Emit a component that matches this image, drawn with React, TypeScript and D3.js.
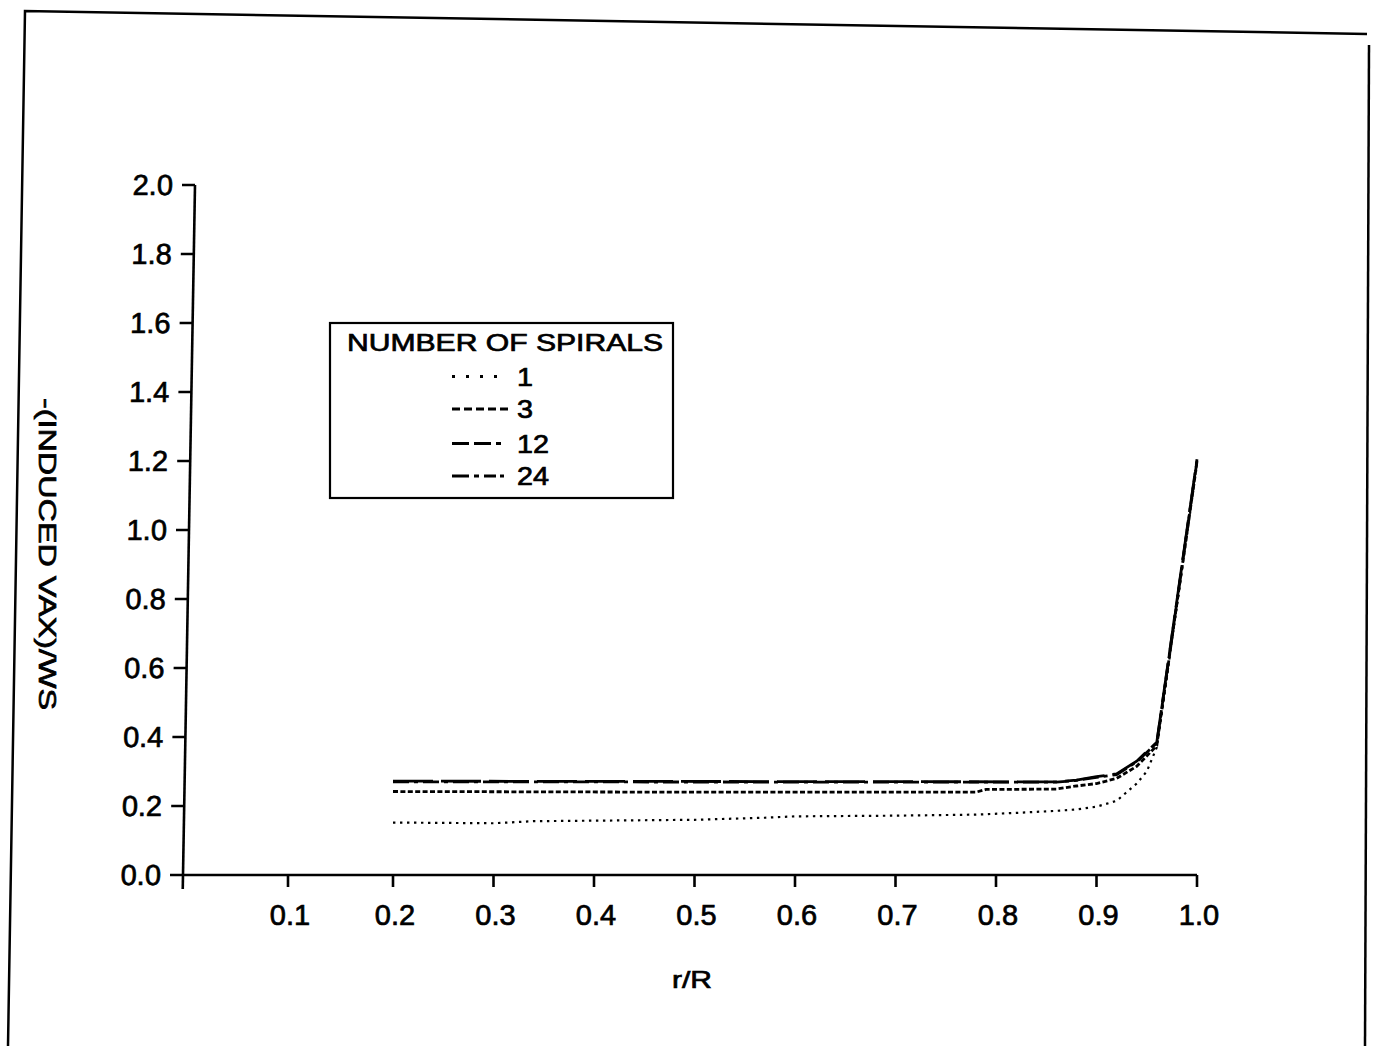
import React from "react";
import * as d3 from "d3";

const seriesNames = ["1", "3", "12", "24"];

const rR1 = [0.2, 0.3, 0.34, 0.5, 0.57, 0.6, 0.7, 0.78, 0.82, 0.86, 0.88, 0.9, 0.92, 0.93, 0.94, 0.95, 0.96, 1.0];
const v1 = [0.152, 0.15, 0.156, 0.16, 0.166, 0.17, 0.172, 0.175, 0.18, 0.186, 0.19, 0.198, 0.215, 0.24, 0.265, 0.3, 0.37, 1.19];

const rR3 = [0.2, 0.5, 0.78, 0.79, 0.86, 0.88, 0.9, 0.92, 0.94, 0.96, 1.0];
const v3 = [0.242, 0.24, 0.24, 0.248, 0.249, 0.258, 0.265, 0.28, 0.315, 0.375, 1.2];

const rR12 = [0.2, 0.86, 0.88, 0.9, 0.92, 0.94, 0.96, 1.0];
const v12 = [0.272, 0.27, 0.275, 0.285, 0.293, 0.33, 0.385, 1.205];

const rR24 = [0.2, 0.86, 0.88, 0.9, 0.92, 0.94, 0.96, 1.0];
const v24 = [0.27, 0.269, 0.274, 0.283, 0.291, 0.328, 0.383, 1.2];

const xTicks = [0.1, 0.2, 0.3, 0.4, 0.5, 0.6, 0.7, 0.8, 0.9, 1.0];
const yTicks = [0, 0.2, 0.4, 0.6, 0.8, 1.0, 1.2, 1.4, 1.6, 1.8, 2.0];

const FONT = "'Liberation Sans', Arial, Helvetica, sans-serif";

export default function App() {
  const x = d3.scaleLinear().domain([0.2, 1]).range([393, 1197]);
  const y = d3.scaleLinear().domain([0, 2]).range([875, 185]);
  const axisX = 183;
  const k = 12 / 690;
  const shear = `matrix(1,0,${-k},1,${k * 875},0)`;

  const line = d3
    .line<[number, number]>()
    .x((d) => x(d[0]))
    .y((d) => y(d[1]));

  const series = [
    { name: seriesNames[0], xs: rR1, ys: v1, dash: "2.4,4.6", w: 2.2 },
    { name: seriesNames[1], xs: rR3, ys: v3, dash: "5,2.4", w: 2.8 },
    { name: seriesNames[2], xs: rR12, ys: v12, dash: "40,8", w: 2.8 },
    { name: seriesNames[3], xs: rR24, ys: v24, dash: "16,5,4,5", w: 2.8 },
  ];

  const legendRows = [376.5, 409, 443.5, 476];
  const legendDash = ["3,11", "8,4", "17,5,17,5,5,20", "17,5,5,5,12,4,4,20"];
  const textStroke = { stroke: "#000", strokeWidth: 0.7 };

  return (
    <svg
      width={1384}
      height={1046}
      style={{ position: "absolute", left: 0, top: 0, background: "#fff" }}
      fontFamily={FONT}
    >
      <rect x={0} y={0} width={1384} height={1046} fill="#fff" />
      {/* outer frame */}
      <path d="M8,1046 L25,11 L1367,34" fill="none" stroke="#000" strokeWidth={2.5} />
      <path d="M1369,45 L1365,1046" fill="none" stroke="#000" strokeWidth={2.5} />

      {/* y axis (slightly skewed like the scan) */}
      <g transform={shear}>
        <line x1={axisX} x2={axisX} y1={y(2)} y2={y(0) + 14} stroke="#000" strokeWidth={2.6} />
        {yTicks.map((t) => (
          <g key={t}>
            <line x1={axisX - 13} x2={axisX} y1={y(t)} y2={y(t)} stroke="#000" strokeWidth={2.6} />
            <text x={axisX - 22} y={y(t) + 10} textAnchor="end" fontSize={29} fill="#000" {...textStroke}>
              {t.toFixed(1)}
            </text>
          </g>
        ))}
      </g>

      {/* x axis */}
      <line x1={axisX} x2={x(1)} y1={y(0)} y2={y(0)} stroke="#000" strokeWidth={2.6} />
      {xTicks.map((t) => {
        const px = t === 0.1 ? (axisX + x(0.2)) / 2 : x(t);
        return (
          <g key={t}>
            <line x1={px} x2={px} y1={y(0)} y2={y(0) + 12} stroke="#000" strokeWidth={2.6} />
            <text x={px + 2} y={925} textAnchor="middle" fontSize={29} fill="#000" {...textStroke}>
              {t.toFixed(1)}
            </text>
          </g>
        );
      })}

      {/* axis titles */}
      <text x={692} y={988} textAnchor="middle" fontSize={24} textLength={40} lengthAdjust="spacingAndGlyphs" fill="#000" {...textStroke}>
        r/R
      </text>
      <text
        transform="translate(39,554) rotate(90)"
        x={0}
        y={0}
        textAnchor="middle"
        fontSize={24}
        textLength={312}
        lengthAdjust="spacingAndGlyphs"
        fill="#000"
        {...textStroke}
      >
        -(INDUCED VAX)/WS
      </text>

      {/* data */}
      {series.map((s) => (
        <path
          key={s.name}
          d={line(s.xs.map((v, i) => [v, s.ys[i]] as [number, number])) || ""}
          fill="none"
          stroke="#000"
          strokeWidth={s.w}
          strokeDasharray={s.dash}
        />
      ))}

      {/* legend */}
      <rect x={330} y={323} width={343} height={175} fill="#fff" stroke="#000" strokeWidth={2.2} />
      <text x={347} y={351} fontSize={24} textLength={316} lengthAdjust="spacingAndGlyphs" fill="#000" {...textStroke}>
        NUMBER OF SPIRALS
      </text>
      {seriesNames.map((n, i) => (
        <g key={n}>
          <line
            x1={452}
            x2={i === 0 ? 497 : 508}
            y1={legendRows[i]}
            y2={legendRows[i]}
            stroke="#000"
            strokeWidth={i === 0 ? 3 : 3.2}
            strokeDasharray={legendDash[i]}
          />
          <text x={517} y={legendRows[i] + 9} fontSize={25} textLength={n.length * 16} lengthAdjust="spacingAndGlyphs" fill="#000" {...textStroke}>
            {n}
          </text>
        </g>
      ))}
    </svg>
  );
}
